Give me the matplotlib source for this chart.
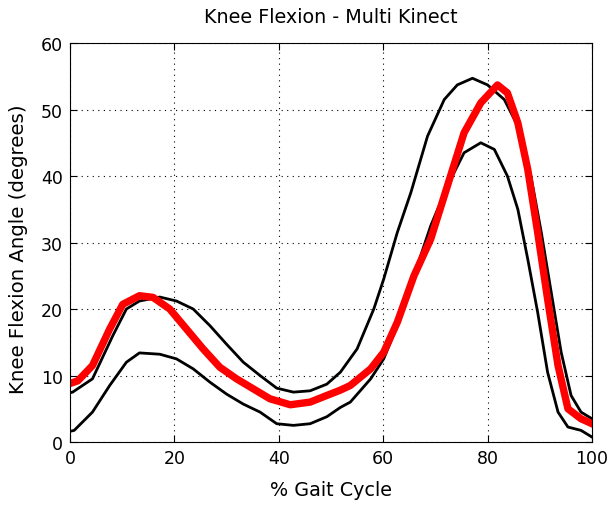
import matplotlib
matplotlib.use("Agg")
import matplotlib.pyplot as plt

# upper black curve
upper_x = [0, 0.5, 4.3, 8.2, 10.8, 13.3, 17.2, 20.4, 23.6, 26.8, 30, 33.2, 36.4, 39.6, 42.8, 46,
           49.2, 51.8, 55, 58.2, 60.1, 62.7, 65.3, 68.5, 71.7, 74.2, 77.1, 80, 83.2, 85.8, 88.3,
           90.3, 92.2, 94.1, 96, 97.9, 100]
upper_y = [7.4, 7.5, 9.5, 16, 20, 21.2, 21.8, 21.2, 20, 17.5, 14.7, 12, 10, 8.1, 7.5, 7.7,
           8.7, 10.5, 14, 20, 24.5, 31.5, 37.5, 46, 51.5, 53.7, 54.7, 53.7, 51.5, 47.5, 40,
           31.5, 22.5, 13.5, 7, 4.5, 3.5]

# lower black curve
lower_x = [0, 0.8, 4.3, 7.6, 10.8, 13.3, 17.2, 20.4, 23.6, 26.8, 30, 33.2, 36.4, 39.6, 42.8, 46,
           49.2, 51.8, 53.7, 57.6, 60.1, 62.7, 65.9, 69.1, 72.3, 75.5, 78.7, 81.3, 83.8, 85.8,
           87.7, 89.6, 91.5, 93.5, 95.4, 97.9, 100]
lower_y = [1.6, 1.75, 4.5, 8.5, 12, 13.4, 13.2, 12.5, 11, 9, 7.2, 5.7, 4.5, 2.75, 2.5, 2.75,
           3.8, 5.2, 6, 9.5, 12.5, 17.5, 25, 32.5, 38.5, 43.5, 45, 44, 40, 35,
           27.5, 19.5, 10.5, 4.5, 2.25, 1.75, 0.75]

# multi kinect (red)
kinect_x = [0, 1.5, 4.3, 7.6, 10.1, 13.3, 15.9, 19.1, 22.3, 25.5, 28.7, 31.9, 35.1, 38.3, 42.2,
            46, 49.2, 51.8, 53.7, 57.6, 60.1, 62.7, 65.9, 69.1, 72.3, 75.5, 78.7, 81.9, 83.8,
            85.8, 87.7, 89.6, 91.5, 93.5, 95.4, 97.9, 100]
kinect_y = [8.8, 9.2, 11.5, 17, 20.7, 22, 21.75, 20, 17, 14, 11.25, 9.5, 8, 6.5, 5.6,
            6, 7, 7.8, 8.5, 11, 13.5, 18, 25, 30.5, 38.5, 46.5, 51, 53.7, 52.5,
            48, 41, 31.5, 21.5, 11.5, 5, 3.5, 2.75]

plt.rcParams["font.family"] = ["DejaVu Sans"]

fig = plt.figure(figsize=(6.09, 5.06), dpi=100)
ax = fig.add_axes([0.115, 0.1245, 0.857, 0.7885])

ax.plot(upper_x, upper_y, color="black", linewidth=2.0)
ax.plot(lower_x, lower_y, color="black", linewidth=2.0)
ax.plot(kinect_x, kinect_y, color="red", linewidth=5.3)

ax.set_xlim(0, 100)
ax.set_ylim(0, 60)
ax.set_xticks(range(0, 101, 20))
ax.set_yticks(range(0, 61, 10))
ax.grid(True, color="black", linestyle=(0, (1, 4)), linewidth=0.8)
ax.tick_params(direction="in", top=True, right=True, length=5, labelsize=12.5)
ax.tick_params(axis="y", pad=5)
ax.tick_params(axis="x", pad=5)
for s in ax.spines.values():
    s.set_linewidth(0.8)

ax.set_title("Knee Flexion - Multi Kinect", fontsize=13.8, pad=15)
ax.set_xlabel("% Gait Cycle", fontsize=13.8)
ax.set_ylabel("Knee Flexion Angle (degrees)", fontsize=14.2)
ax.xaxis.set_label_coords(0.5, -0.095)
ax.yaxis.set_label_coords(-0.08, 0.485)

fig.savefig("out.png", dpi=100)
